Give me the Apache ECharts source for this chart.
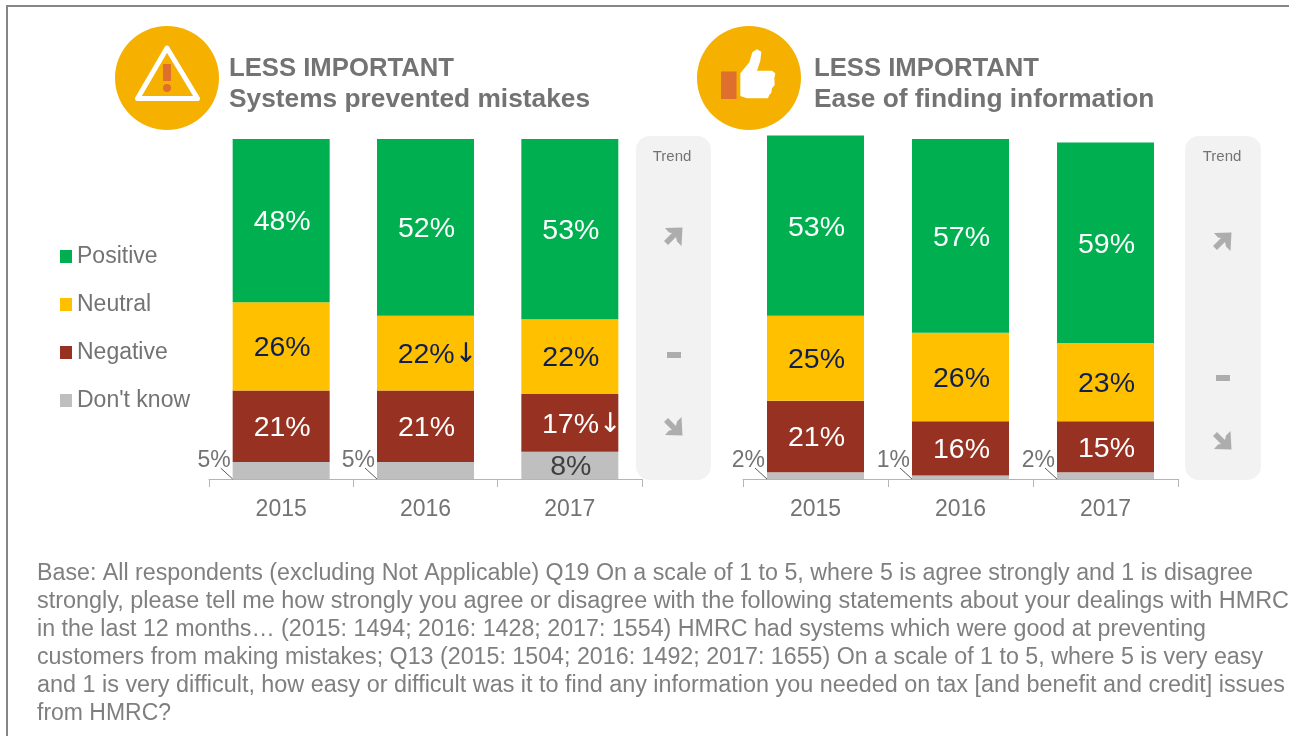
<!DOCTYPE html>
<html><head><meta charset="utf-8">
<style>html,body{margin:0;padding:0;background:#fff}#c{width:1289px;height:736px}</style>
<script src="https://cdn.jsdelivr.net/npm/echarts@6/dist/echarts.min.js"></script>
</head><body><div id="c"></div>
<script>
const years = ['2015','2016','2017'];
const seriesNames = ['Positive','Neutral','Negative',"Don't know"];
const colors = {'Positive':'#00B050','Neutral':'#FFC000','Negative':'#973222',"Don't know":'#BFBFBF'};

const leftPositive = [48,52,53];
const leftNeutral  = [26,22,22];
const leftNegative = [21,21,17];
const leftDontKnow = [5,5,8];
const leftNeutralMarks  = ['','↓',''];
const leftNegativeMarks = ['','','↓'];

const rightPositive = [53,57,59];
const rightNeutral  = [25,26,23];
const rightNegative = [21,16,15];
const rightDontKnow = [2,1,2];

const leftTitle  = ['LESS IMPORTANT','Systems prevented mistakes'];
const rightTitle = ['LESS IMPORTANT','Ease of finding information'];
const trendLabel = 'Trend';
const footnote = [
 'Base: All respondents (excluding Not Applicable) Q19 On a scale of 1 to 5, where 5 is agree strongly and 1 is disagree',
 'strongly, please tell me how strongly you agree or disagree with the following statements about your dealings with HMRC',
 'in the last 12 months… (2015: 1494; 2016: 1428; 2017: 1554) HMRC had systems which were good at preventing',
 'customers from making mistakes; Q13 (2015: 1504; 2016: 1492; 2017: 1655) On a scale of 1 to 5, where 5 is very easy',
 'and 1 is very difficult, how easy or difficult was it to find any information you needed on tax [and benefit and credit] issues',
 'from HMRC?'
];

const FONT = '"Liberation Sans", Arial, sans-serif';
const GREY = '#737373';
const BAR_W = 97;

function barSeries(name, values, grid, color, marks, hideBelow){
  return {
    name, type:'bar', stack:'s'+grid, xAxisIndex:grid, yAxisIndex:grid,
    data:values.map((v,i)=>{
      const marked = marks && marks[i];
      return marked ? {value:v,label:{offset:[12,2]}} : {value:v};
    }),
    barWidth:BAR_W, clip:false,
    itemStyle:{color:colors[name]},
    label:{show:true, position:'inside', offset:[1,2], fontFamily:FONT, fontSize:28.5, color:color,
      rich:{a:{fontFamily:'"DejaVu Sans"',fontSize:27,color:color}},
      formatter:p => (hideBelow && p.value < hideBelow) ? '' :
        p.value + '%' + (marks && marks[p.dataIndex] ? '{a|'+marks[p.dataIndex]+'}' : '')}
  };
}
function leaderSeries(values, grid, threshold){
  return {
    type:'custom', xAxisIndex:grid, yAxisIndex:grid, silent:true, clip:false, z:5,
    data:values.map((v,i)=>[i,v]).filter(d=>d[1] < threshold),
    renderItem:(params, api)=>{
      const p = api.coord([api.value(0), 0]);
      const x = p[0] - BAR_W/2;
      const y = p[1];
      return {type:'group', children:[
        {type:'line', shape:{x1:x-12,y1:y-11,x2:x,y2:y}, style:{stroke:'#595959',lineWidth:1}},
        {type:'text', style:{x:x-2,y:y-18,text:api.value(1)+'%',align:'right',verticalAlign:'middle',
          fontFamily:FONT,fontSize:23,fill:GREY}}
      ]};
    }
  };
}
function xAxis(grid){
  return {type:'category', gridIndex:grid, data:years, boundaryGap:true,
    axisLine:{show:true,lineStyle:{color:'#B5B5B5',width:1}},
    axisTick:{show:true,length:8,alignWithLabel:false,lineStyle:{color:'#B5B5B5',width:1}},
    axisLabel:{margin:19,fontFamily:FONT,fontSize:23,color:GREY,interval:0}};
}
function yAxis(grid){ return {type:'value',gridIndex:grid,min:0,max:105,show:false}; }
function titleItems(lines,left){
  return [
    {text:lines[0],left:left,top:56,padding:0,textStyle:{fontFamily:FONT,fontSize:25.7,fontWeight:'bold',color:GREY}},
    {text:lines[1],left:left,top:87,padding:0,textStyle:{fontFamily:FONT,fontSize:26.3,fontWeight:'bold',color:GREY}}
  ];
}
function panel(x,w){
  return {type:'rect',shape:{x:x,y:136,width:w,height:344,r:14},style:{fill:'#F2F2F2'},z:0};
}
const UP = [[-8,-9],[9.5,-9.5],[8.5,9],[4,4.5],[3,0],[-5,8],[-9,4],[-1,-4],[-4,-4.5]];
function arrow(cx,cy,down){
  return {type:'polygon',x:cx,y:cy,scaleY:down?-1:1,shape:{points:UP},style:{fill:'#ADADAD'},z:1};
}
function dash(cx,cy){
  return {type:'rect',shape:{x:cx-7,y:cy-3,width:14,height:6},style:{fill:'#ADADAD'},z:1};
}
function trendText(cx){
  return {type:'text',z:2,style:{x:cx,y:157,text:trendLabel,align:'center',verticalAlign:'middle',fontFamily:FONT,fontSize:15,fill:GREY}};
}
const footerEnds = [1253,1289,1206,1263,1285,171];
function footerLines(){
  const ctx = document.createElement('canvas').getContext('2d');
  const size = 23;
  ctx.font = size+'px "Liberation Sans"';
  return footnote.map((t,i)=>{
    const w = ctx.measureText(t).width;
    return {type:'text',x:37,y:574+28*i,scaleX:(footerEnds[i]-37)/w,
      style:{x:0,y:0,text:t,verticalAlign:'middle',fontFamily:FONT,fontSize:size,fill:'#7F7F7F'}};
  });
}
const THUMB = [[145,160],[172,127],[181,97],[195,88],[208,95],[205,122],[195,152],[240,152],[250,160],[247,175],[248,195],[240,205],[238,218],[232,225],[228,235],[165,235],[145,228]];

const option = {
  backgroundColor:'#fff', animation:false,
  title:[...titleItems(leftTitle,229),...titleItems(rightTitle,814)],
  legend:{data:seriesNames,orient:'vertical',left:60,top:245,itemWidth:12,itemHeight:13,itemGap:25,
    icon:'rect',selectedMode:false,textStyle:{fontFamily:FONT,fontSize:23,color:GREY,padding:[2,0,0,0]},padding:0},
  grid:[
    {left:209,width:433,top:122,height:357},
    {left:743,width:435,top:122,height:357}
  ],
  xAxis:[xAxis(0),xAxis(1)],
  yAxis:[yAxis(0),yAxis(1)],
  series:[
    barSeries("Don't know",leftDontKnow,0,'#404040',null,6),
    barSeries('Negative',leftNegative,0,'#fff',leftNegativeMarks),
    barSeries('Neutral',leftNeutral,0,'#0F1F4F',leftNeutralMarks),
    barSeries('Positive',leftPositive,0,'#fff'),
    leaderSeries(leftDontKnow,0,6),
    barSeries("Don't know",rightDontKnow,1,'#404040',null,6),
    barSeries('Negative',rightNegative,1,'#fff'),
    barSeries('Neutral',rightNeutral,1,'#0F1F4F'),
    barSeries('Positive',rightPositive,1,'#fff'),
    leaderSeries(rightDontKnow,1,6)
  ],
  graphic:[
    {type:'polyline',shape:{points:[[7,736],[7,6],[1289,6]]},style:{stroke:'#868686',lineWidth:2,fill:null}},
    {type:'circle',shape:{cx:167,cy:78,r:52},style:{fill:'#F5B000'}},
    {type:'polygon',shape:{points:[[167,48],[197.5,98.5],[137.5,98.5]]},style:{fill:null,stroke:'#fff',lineWidth:5,lineJoin:'round'}},
    {type:'rect',shape:{x:163,y:64,width:8,height:17},style:{fill:'#DF6F2C'}},
    {type:'circle',shape:{cx:167,cy:88,r:4},style:{fill:'#DF6F2C'}},
    {type:'circle',shape:{cx:749,cy:78,r:52},style:{fill:'#F5B000'}},
    {type:'rect',shape:{x:721,y:71.5,width:15.5,height:27.5},style:{fill:'#DF6F2C'}},
    {type:'polygon',x:692,y:20,scaleX:1/3,scaleY:1/3,shape:{points:THUMB},style:{fill:'#fff'}},
    panel(636,75),panel(1185,76),
    trendText(672),trendText(1222),
    arrow(673,237,false),dash(674,355),arrow(673,426,true),
    arrow(1222,242,false),dash(1223,378),arrow(1222,440,true),
    ...footerLines()
  ]
};
const chart = echarts.init(document.getElementById('c'),null,{renderer:'canvas'});
chart.setOption(option);
</script></body></html>
